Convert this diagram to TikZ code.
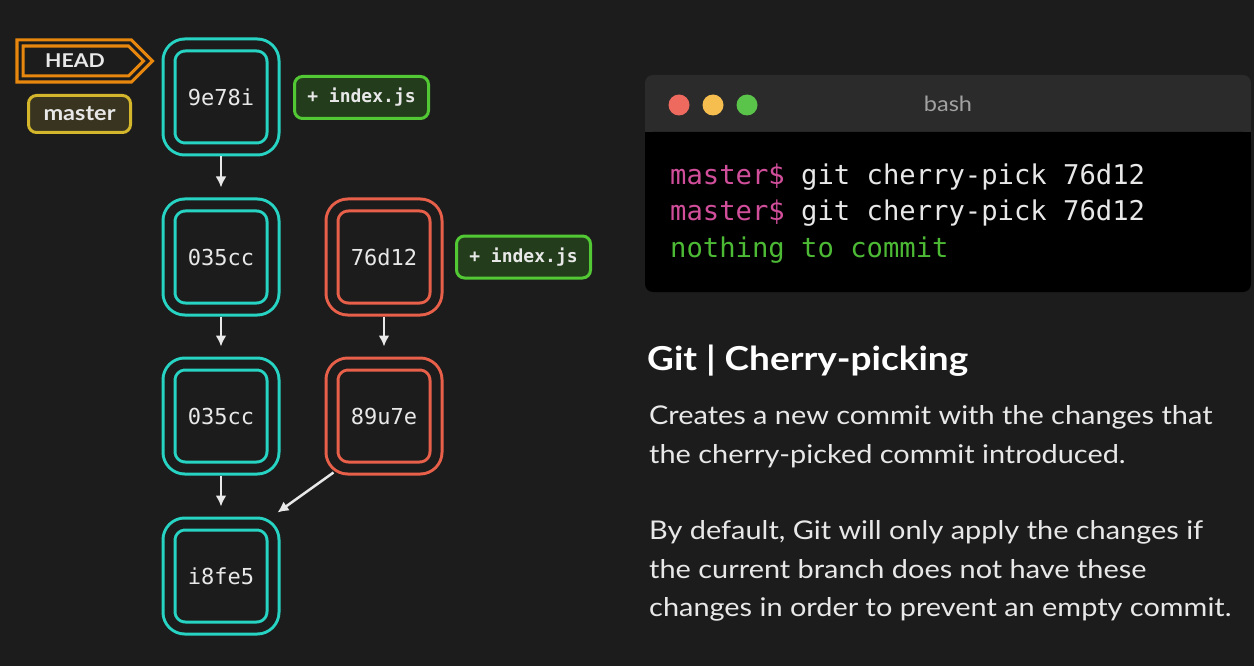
\documentclass[tikz,border=0pt]{standalone}
\usepackage{fontspec}
\setmainfont{Lato}[FakeStretch=1.12]
\setmonofont{DejaVu Sans Mono}
\usetikzlibrary{arrows.meta,shapes.symbols}

\definecolor{bg}{HTML}{1C1C1C}
\definecolor{txt}{HTML}{E8E8E8}
\definecolor{gitcyan}{HTML}{27D4C3}
\definecolor{gitred}{HTML}{E8604A}
\definecolor{headorange}{HTML}{E8870E}
\definecolor{masteryellow}{HTML}{D4B62C}
\definecolor{masterfill}{HTML}{38341F}
\definecolor{filegreen}{HTML}{52C934}
\definecolor{filefill}{HTML}{233D1C}
\definecolor{termbar}{HTML}{2B2B2B}
\definecolor{prompt}{HTML}{D04E9A}
\definecolor{termgreen}{HTML}{4DBA35}
\definecolor{dotred}{HTML}{EE6A5F}
\definecolor{dotyellow}{HTML}{F5BE4F}
\definecolor{dotgreen}{HTML}{59C34A}

\begin{document}
\begin{tikzpicture}[x=1pt,y=-1pt,>={Latex[length=11pt,width=11pt]}]
    \tikzstyle{commit}=[draw,double=bg,double distance=9pt,line width=3pt,rounded corners=16pt,minimum size=104pt,inner sep=0pt,outer sep=7.5pt,text=txt,font=\fontsize{22}{22}\ttfamily]
    \tikzstyle{ok}=[commit,draw=gitcyan]
    \tikzstyle{pick}=[commit,draw=gitred]
    \tikzstyle{file}=[draw=filegreen,fill=filefill,line width=3pt,rounded corners=8pt,minimum width=134pt,minimum height=42pt,text=txt,font=\fontsize{18}{18}\ttfamily\bfseries]
    \tikzstyle{arr}=[->,draw=txt,line width=2.5pt]
    \tikzstyle{term}=[anchor=base west,inner sep=0pt,font=\fontsize{27.2}{27.2}\ttfamily]
    \tikzstyle{body}=[anchor=base west,inner sep=0pt,text=txt,font=\fontsize{25.8}{25.8}\selectfont]
    \tikzstyle{dot}=[circle,inner sep=0pt,minimum size=21pt]

    \useasboundingbox[fill=bg] (0,0) rectangle (1254,666);

    % commits
    \node[ok] (c1) at (221,97) {9e78i};
    \node[ok] (c2) at (221,257) {035cc};
    \node[ok] (c3) at (221,416) {035cc};
    \node[ok] (c4) at (221,576) {i8fe5};
    \node[pick] (p1) at (384,257) {76d12};
    \node[pick] (p2) at (384,416) {89u7e};

    % refs and files
    \node[signal,signal to=east,signal pointer angle=90,draw=headorange,double=bg,double distance=3pt,line width=3.2pt,minimum width=128pt,minimum height=36pt,inner sep=0pt,text=txt,font=\fontsize{19}{19}\bfseries] (head) at (75,61) {HEAD};
    \node[draw=masteryellow,fill=masterfill,line width=3pt,rounded corners=8pt,minimum width=102pt,minimum height=37pt,text=txt,font=\fontsize{21}{21}\bfseries] (master) at (79.5,114) {master};
    \node[file] (f1) at (361.5,97.5) {+ index.js};
    \node[file] (f2) at (523.5,257) {+ index.js};

    \draw[arr,shorten >=10pt] (c1) to (c2);
    \draw[arr,shorten >=10pt] (c2) to (c3);
    \draw[arr,shorten >=10pt] (c3) to (c4);
    \draw[arr,shorten >=10pt] (p1) to (p2);
    \draw[arr] ([xshift=9pt,yshift=3pt]p2.south west) to ([xshift=-3pt,yshift=4pt]c4.north east);

    % terminal
    \fill[termbar,rounded corners=8pt] (645,75) rectangle (1251,145);
    \fill[black,rounded corners=8pt] (645,132) rectangle (1251,292);
    \fill[black] (645,132) rectangle (1251,145);
    \node[dot,fill=dotred] (d1) at (679,105) {};
    \node[dot,fill=dotyellow] (d2) at (713,105) {};
    \node[dot,fill=dotgreen] (d3) at (747,105) {};
    \node[text=txt!70!black,font=\fontsize{21}{21}\selectfont] (bash) at (948,104) {bash};
    \node[term,text=txt] (l1) at (670,185) {\textcolor{prompt}{master\$} git cherry-pick 76d12};
    \node[term,text=txt] (l2) at (670,221) {\textcolor{prompt}{master\$} git cherry-pick 76d12};
    \node[term,text=termgreen] (l3) at (670,257) {nothing to commit};

    % description
    \node[anchor=base west,inner sep=0pt,text=white,font=\fontsize{33}{33}\bfseries] (title) at (647,370) {Git | Cherry-picking};
    \node[body] (t1) at (649,424) {Creates a new commit with the changes that};
    \node[body] (t2) at (649,463) {the cherry-picked commit introduced.};
    \node[body] (t3) at (649,539) {By default, Git will only apply the changes if};
    \node[body] (t4) at (649,578) {the current branch does not have these};
    \node[body] (t5) at (649,616) {changes in order to prevent an empty commit.};
\end{tikzpicture}
\end{document}
